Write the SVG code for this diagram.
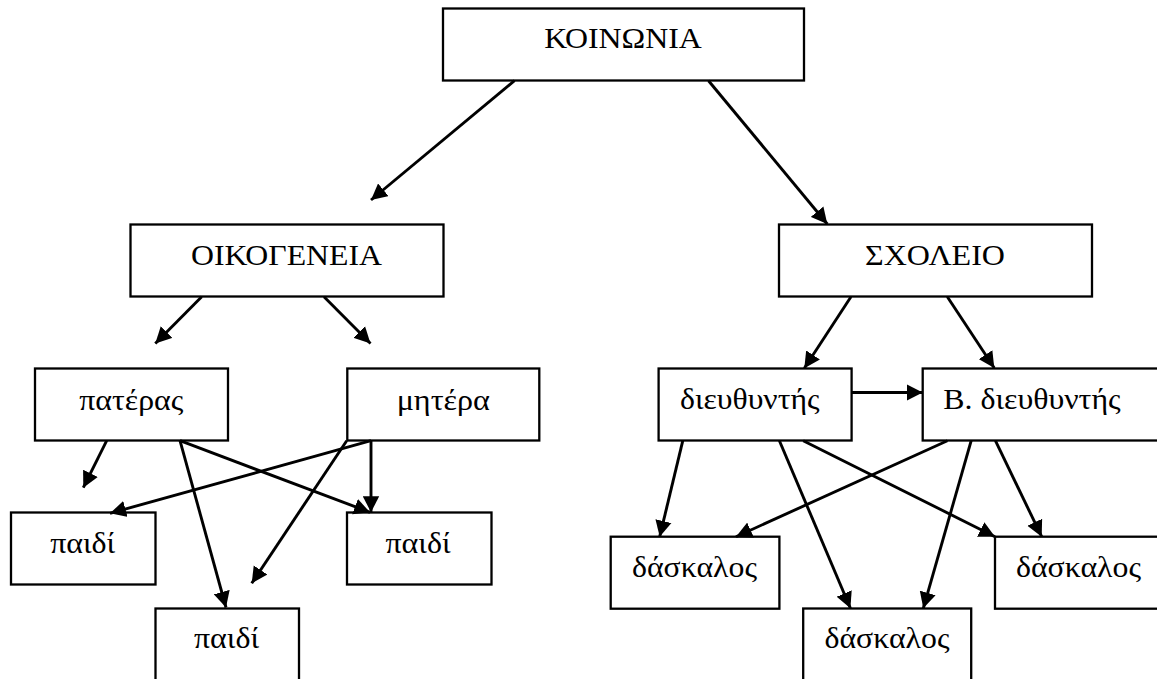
<svg xmlns="http://www.w3.org/2000/svg" width="1157" height="679" viewBox="0 0 1157 679">
<style>
rect{fill:#fff;stroke:#000;stroke-width:2.3}
text{font-family:"Liberation Serif","DejaVu Serif",serif;font-size:29.5px;fill:#000}
.c{text-anchor:middle}
#connectors line{stroke:#000;stroke-width:2.9;marker-end:url(#ah)}
</style>
<defs>
<marker id="ah" markerUnits="userSpaceOnUse" markerWidth="17" markerHeight="17" refX="16" refY="8.5" orient="auto" viewBox="0 0 17 17">
<path d="M0,0.3 L16,8.5 L0,16.7 z" fill="#000"/>
</marker>
</defs>
<rect width="1157" height="679" fill="#fff" style="stroke:none"/>
<g id="n-koinonia"><rect x="443" y="8.5" width="361" height="72"/><text class="c" x="623" y="48.3" textLength="157.7" lengthAdjust="spacingAndGlyphs">ΚΟΙΝΩΝΙΑ</text></g>
<g id="n-oikogeneia"><rect x="130.5" y="224.5" width="313" height="72"/><text class="c" x="286.5" y="265" textLength="191" lengthAdjust="spacingAndGlyphs">ΟΙΚΟΓΕΝΕΙΑ</text></g>
<g id="n-sxoleio"><rect x="779" y="224.5" width="313" height="72"/><text class="c" x="935" y="265" textLength="140" lengthAdjust="spacingAndGlyphs">ΣΧΟΛΕΙΟ</text></g>
<g id="n-pateras"><rect x="35" y="368.5" width="193" height="72"/><text class="c" x="131.3" y="410" textLength="104" lengthAdjust="spacingAndGlyphs">πατέρας</text></g>
<g id="n-mitera"><rect x="347.3" y="368.5" width="192" height="72"/><text class="c" x="443.3" y="410" textLength="93.3" lengthAdjust="spacingAndGlyphs">μητέρα</text></g>
<g id="n-paidi1"><rect x="11" y="512.5" width="144.5" height="72"/><text class="c" x="82.7" y="553.3" textLength="65" lengthAdjust="spacingAndGlyphs">παιδί</text></g>
<g id="n-paidi2"><rect x="347" y="512.5" width="144.5" height="72"/><text class="c" x="418" y="553.3" textLength="65" lengthAdjust="spacingAndGlyphs">παιδί</text></g>
<g id="n-paidi3"><rect x="155.5" y="608.5" width="143.5" height="72"/><text class="c" x="226.5" y="648.3" textLength="65" lengthAdjust="spacingAndGlyphs">παιδί</text></g>
<g id="n-dieythyntis"><rect x="658.6" y="368.5" width="193" height="72"/><text x="680" y="408.5" textLength="139.5" lengthAdjust="spacingAndGlyphs">διευθυντής</text></g>
<g id="n-b-dieythyntis"><rect x="922.7" y="368.5" width="245" height="72"/><text x="943.3" y="409" textLength="177.4" lengthAdjust="spacingAndGlyphs">Β. διευθυντής</text></g>
<g id="n-daskalos1"><rect x="610.7" y="536.7" width="168.7" height="72"/><text x="632" y="576.7" textLength="125" lengthAdjust="spacingAndGlyphs">δάσκαλος</text></g>
<g id="n-daskalos2"><rect x="803.2" y="608.5" width="168" height="72"/><text x="824.5" y="648.3" textLength="125" lengthAdjust="spacingAndGlyphs">δάσκαλος</text></g>
<g id="n-daskalos3"><rect x="995" y="536.7" width="172" height="72"/><text x="1016" y="576.7" textLength="125" lengthAdjust="spacingAndGlyphs">δάσκαλος</text></g>
<g id="connectors">
<line x1="514.5" y1="80.7" x2="371" y2="200"/>
<line x1="708.5" y1="80.7" x2="827.3" y2="224"/>
<line x1="201.7" y1="296.7" x2="155.3" y2="343.5"/>
<line x1="324" y1="296.7" x2="370.5" y2="343.5"/>
<line x1="851" y1="296.7" x2="804.3" y2="368.3"/>
<line x1="947.3" y1="296.7" x2="994.3" y2="368"/>
<line x1="106.7" y1="440.7" x2="83.3" y2="487.7"/>
<line x1="180" y1="440.7" x2="226" y2="607.5"/>
<line x1="180" y1="440.7" x2="370" y2="512.3"/>
<line x1="371" y1="440.7" x2="110" y2="513.3"/>
<line x1="371" y1="440.7" x2="371" y2="512.3"/>
<line x1="346.7" y1="440.7" x2="251.7" y2="583.3"/>
<line x1="851.5" y1="392.5" x2="922.7" y2="392.5"/>
<line x1="682.8" y1="440.7" x2="659.7" y2="536.7"/>
<line x1="779.4" y1="440.7" x2="850.4" y2="608.3"/>
<line x1="803.2" y1="440.7" x2="995" y2="536.7"/>
<line x1="947.4" y1="440.7" x2="736" y2="536.7"/>
<line x1="971.2" y1="440.7" x2="923.3" y2="608.3"/>
<line x1="995.4" y1="440.7" x2="1041.7" y2="536.7"/>
</g>
</svg>
